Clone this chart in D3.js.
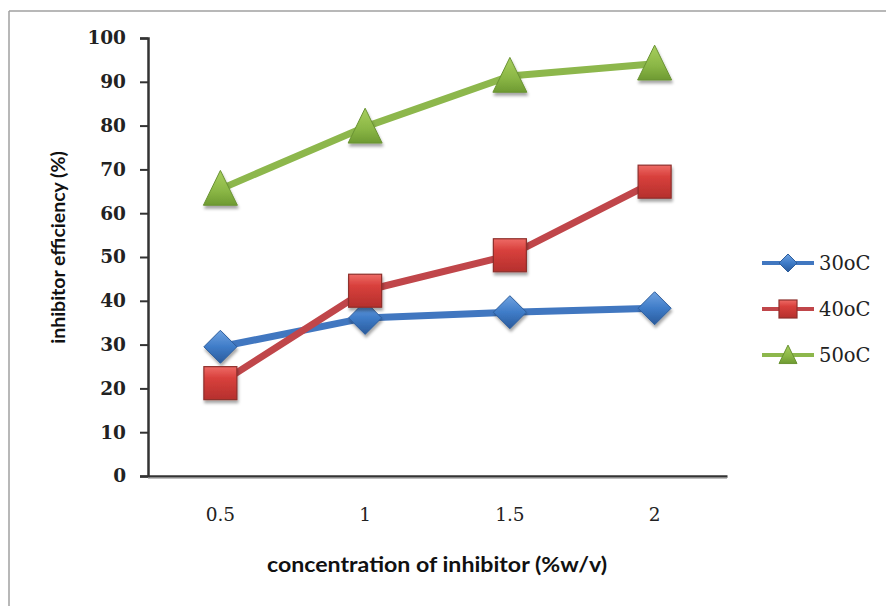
<!DOCTYPE html>
<html><head><meta charset="utf-8">
<script src="https://cdn.jsdelivr.net/npm/d3@7"></script>
<style>body{margin:0;background:#fff}svg{display:block}</style>
</head><body><svg id="c" width="886" height="606"></svg>
<script>
const categories = ["0.5", "1", "1.5", "2"];
const seriesNames = ["30oC", "40oC", "50oC"];
const s30 = [29.5, 36.1, 37.4, 38.3];
const s40 = [21.2, 42.3, 50.4, 67.2];
const s50 = [65.5, 79.7, 91.3, 94.1];
const yTicks = [0, 10, 20, 30, 40, 50, 60, 70, 80, 90, 100];
const xTitle = "concentration of inhibitor (%w/v)";
const yTitle = "inhibitor efficiency (%)";

const svg = d3.select("#c");
const defs = svg.append("defs");
const flt = defs.append("filter").attr("id","sh").attr("x","-50%").attr("y","-50%").attr("width","200%").attr("height","200%");
flt.append("feDropShadow").attr("dx",1).attr("dy",3).attr("stdDeviation",1.6).attr("flood-color","#000").attr("flood-opacity",0.35);

function grad(id, stops){
  const g = defs.append("linearGradient").attr("id",id).attr("x1",0).attr("y1",0).attr("x2",0).attr("y2",1);
  stops.forEach(s=>g.append("stop").attr("offset",s[0]).attr("stop-color",s[1]));
}
grad("gb",[[0,"#6fa2e0"],[0.5,"#3f7cc8"],[1,"#2a5b9c"]]);
grad("gr",[[0,"#ee6b66"],[0.35,"#d8403c"],[1,"#b5302d"]]);
grad("gg",[[0,"#a8cf5e"],[0.6,"#8ab645"],[1,"#6e9a32"]]);

const series = [
  {name: seriesNames[0], values: s30, color: "#4177c0", shape: "diamond", fill: "url(#gb)", stroke: "#2d5d9c"},
  {name: seriesNames[1], values: s40, color: "#c0464a", shape: "square", fill: "url(#gr)", stroke: "#8e2f2c"},
  {name: seriesNames[2], values: s50, color: "#8db74c", shape: "triangle", fill: "url(#gg)", stroke: "#6a9333"}
];

// frame
svg.append("line").attr("x1",9).attr("y1",11).attr("x2",886).attr("y2",11).attr("stroke","#a0a0a0").attr("stroke-width",1.5);
svg.append("line").attr("x1",9).attr("y1",11).attr("x2",9).attr("y2",606).attr("stroke","#a0a0a0").attr("stroke-width",1.5);

const L = 148, R = 727, T = 38, B = 476;
const x = d3.scaleBand().domain(categories).range([L, R]);
const y = d3.scaleLinear().domain([0, 100]).range([B, T]);

// y axis
const ya = svg.append("g").attr("transform",`translate(${L},0)`)
  .call(d3.axisLeft(y).tickValues(yTicks).tickSize(8).tickPadding(14));
ya.select(".domain").attr("stroke","#333").attr("stroke-width",2.5);
ya.selectAll(".tick line").attr("stroke","#333").attr("stroke-width",2);
ya.selectAll("text").attr("font-family","'DejaVu Serif', serif").attr("font-weight","bold").attr("font-size",18.5).attr("fill","#222");

// x axis
const xa = svg.append("g").attr("transform",`translate(0,${B})`)
  .call(d3.axisBottom(x).tickSize(0).tickPadding(32));
xa.select(".domain").attr("stroke","#333").attr("stroke-width",2.5);
xa.selectAll("text").attr("font-family","'DejaVu Serif', serif").attr("font-size",18.5).attr("fill","#222");
svg.append("line").attr("x1",L).attr("x2",R).attr("y1",B+2.2).attr("y2",B+2.2).attr("stroke","#aaa").attr("stroke-width",1.2);

// titles
svg.append("text").attr("x",437).attr("y",572).attr("text-anchor","middle")
  .attr("textLength",340).attr("lengthAdjust","spacingAndGlyphs")
  .attr("font-family","Lato, sans-serif").attr("font-weight","bold").attr("font-size",20).attr("fill","#111").text(xTitle);
svg.append("text").attr("transform","translate(65,247.5) rotate(-90)").attr("text-anchor","middle")
  .attr("font-family","Lato, sans-serif").attr("font-weight","bold").attr("font-size",19.5).attr("fill","#111").text(yTitle);

const cx = c => x(c) + x.bandwidth()/2;
const line = d3.line().x((d,i)=>cx(categories[i])).y(d=>y(d));

function marker(g, shape, fill, stroke, s){
  if(shape==="diamond"){
    g.append("path").attr("d",`M0,${-s}L${s},0L0,${s}L${-s},0Z`).attr("fill",fill).attr("stroke",stroke).attr("stroke-width",1);
  } else if(shape==="square"){
    g.append("rect").attr("x",-s).attr("y",-s).attr("width",2*s).attr("height",2*s).attr("fill",fill).attr("stroke",stroke).attr("stroke-width",1.2);
  } else {
    g.append("path").attr("d",`M0,${-s*1.1}L${s},${s*0.95}L${-s},${s*0.95}Z`).attr("fill",fill).attr("stroke",stroke).attr("stroke-width",1);
  }
}

series.forEach(se=>{
  svg.append("path").datum(se.values).attr("d",line).attr("fill","none")
    .attr("stroke",se.color).attr("stroke-width",7).attr("stroke-linejoin","round");
});
series.forEach(se=>{
  se.values.forEach((v,i)=>{
    const g = svg.append("g").attr("transform",`translate(${cx(categories[i])},${y(v)})`).attr("filter","url(#sh)");
    marker(g, se.shape, se.fill, se.stroke, se.shape==="triangle" ? 17 : 16.5);
  });
});

// legend
const ly = [263, 309, 355];
series.forEach((se,i)=>{
  const g = svg.append("g").attr("transform",`translate(0,${ly[i]})`);
  g.append("line").attr("x1",762).attr("x2",814).attr("y1",0).attr("y2",0).attr("stroke",se.color).attr("stroke-width",4);
  const m = g.append("g").attr("transform","translate(788,0)");
  marker(m, se.shape, se.fill, se.stroke, 9);
  g.append("text").attr("x",819).attr("y",0).attr("dy","0.36em")
    .attr("font-family","'DejaVu Serif', serif").attr("font-size",19.5).attr("fill","#222").text(se.name);
});
</script></body></html>
